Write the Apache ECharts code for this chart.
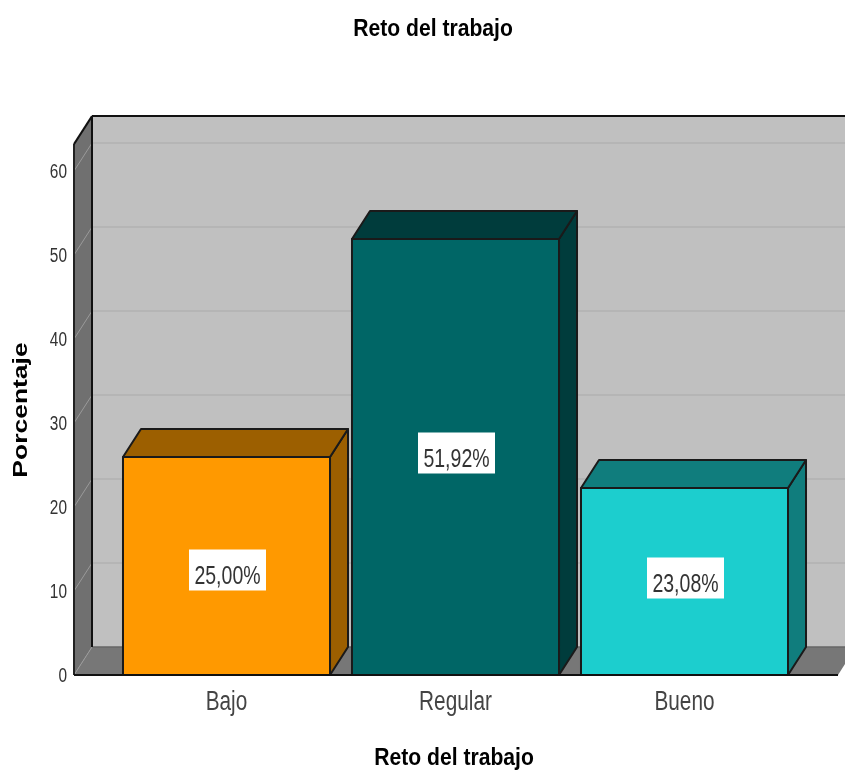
<!DOCTYPE html>
<html>
<head>
<meta charset="utf-8">
<style>html,body{margin:0;padding:0;background:#fff}#c{width:845px;height:771px}</style>
<script src="https://cdn.jsdelivr.net/npm/echarts@6/dist/echarts.min.js"></script>
</head>
<body>
<div id="c"></div>
<script>
const categories = ['Bajo', 'Regular', 'Bueno'];
const percentValues = [25.00, 51.92, 23.08];
const drawnHeights = [25.95, 51.9, 22.26];
const labelAnchors = [12.5, 26.43, 11.54];
const frontColors = ['#ff9900', '#006666', '#1ccece'];
const sideColors = ['#9c5f00', '#003c3c', '#107d7d'];
const yTicks = [0, 10, 20, 30, 40, 50, 60];
const wallTop = 63.2;
const titleText = 'Reto del trabajo';
const yName = 'Porcentaje';

const DX = 18, DY = -28, EDGE = '#1a1a1a';
const SANS = '"Liberation Sans",Arial,sans-serif';

function poly(points, fill, stroke, lw) {
  return { type: 'polygon', shape: { points }, style: { fill, stroke: stroke || null, lineWidth: lw === undefined ? 2 : lw, lineJoin: 'round' } };
}
function line(x1, y1, x2, y2, stroke, lw) {
  return { type: 'line', shape: { x1, y1, x2, y2 }, style: { stroke, lineWidth: lw } };
}
function label(text, x, y, sx, size, color, align, weight) {
  return { type: 'text', x, y, scaleX: sx, style: {
    x: 0, y: 0, text, align: align || 'center', verticalAlign: 'middle',
    font: (weight ? weight + ' ' : '') + size + 'px ' + SANS, fill: color
  } };
}

function renderWalls(params, api) {
  const cs = params.coordSys;
  const L = cs.x - 38, R = cs.x + cs.width + 39;
  const y0 = api.coord([0, 0])[1], yT = api.coord([0, wallTop])[1];
  const kids = [
    poly([[L + DX, yT + DY], [R + DX, yT + DY], [R + DX, y0 + DY], [L + DX, y0 + DY]], '#c0c0c0', null, 0),
    poly([[L, yT], [L + DX, yT + DY], [L + DX, y0 + DY], [L, y0]], '#707070', null, 0),
    poly([[L, y0], [L + DX, y0 + DY], [R + DX, y0 + DY], [R, y0]], '#777777', null, 0)
  ];
  yTicks.forEach(t => {
    const y = api.coord([0, t])[1];
    if (t > 0) {
      kids.push(line(L + DX, y + DY, R + DX, y + DY, '#b5b5b5', 2));
    } else {
      kids.push(line(L + DX, y + DY, R + DX, y + DY, '#666666', 1.5));
    }
    kids.push(line(L, y, L + DX, y + DY, '#9a9a9a', 1));
    kids.push(label(String(t), L - 7, y + 1.5, 0.77, 20, '#333', 'right'));
  });
  kids.push(line(L, yT, L, y0, '#222', 2));
  kids.push(line(L, yT, L + DX, yT + DY, '#111', 2));
  kids.push(line(L + DX, yT + DY, R + DX, yT + DY, '#111', 2));
  kids.push(line(L + DX, yT + DY, L + DX, y0 + DY, '#111', 2));
  return { type: 'group', children: kids };
}

function renderBars(params, api) {
  const i = api.value(0), h = api.value(1), pct = api.value(2);
  const base = api.coord([i, 0]), top = api.coord([i, h]);
  const w = api.size([1, 0])[0] * 0.904;
  const x1 = base[0] - w / 2, x2 = base[0] + w / 2, y0 = base[1], y1 = top[1];
  const cy = api.coord([i, labelAnchors[i]])[1];
  const c = frontColors[i], s = sideColors[i];
  return {
    type: 'group',
    children: [
      poly([[x2, y1], [x2 + DX, y1 + DY], [x2 + DX, y0 + DY], [x2, y0]], s, EDGE),
      poly([[x1, y1], [x1 + DX, y1 + DY], [x2 + DX, y1 + DY], [x2, y1]], s, EDGE),
      poly([[x1, y1], [x2, y1], [x2, y0], [x1, y0]], c, EDGE),
      { type: 'rect', shape: { x: base[0] - 37.5, y: cy - 20.5, width: 77, height: 41 }, style: { fill: '#fff' } },
      label(pct.toFixed(2).replace('.', ',') + '%', base[0] + 1, cy + 6.5, 0.75, 26, '#333'),
      label(categories[i], base[0], y0 + 28, 0.77, 27, '#444')
    ]
  };
}

function renderBase(params, api) {
  const cs = params.coordSys;
  const y0 = api.coord([0, 0])[1];
  return line(cs.x - 38, y0, cs.x + cs.width + 39, y0, '#111', 2);
}

const chart = echarts.init(document.getElementById('c'), null, { renderer: 'canvas' });
chart.setOption({
  animation: false,
  backgroundColor: '#fff',
  grid: { left: 112, width: 687, top: 171, height: 504, outerBoundsMode: 'none' },
  xAxis: {
    type: 'category', data: categories,
    axisLine: { show: false }, axisTick: { show: false }, axisLabel: { show: false }
  },
  yAxis: {
    type: 'value', min: 0, max: 60, interval: 10,
    axisLine: { show: false }, axisTick: { show: false }, splitLine: { show: false },
    axisLabel: { show: false }
  },
  graphic: [
    { type: 'text', x: 433, y: 29, scaleX: 0.88, style: { text: titleText, x: 0, y: 0, align: 'center', verticalAlign: 'middle', font: 'bold 24px ' + SANS, fill: '#000' } },
    { type: 'text', x: 454, y: 758, scaleX: 0.88, style: { text: titleText, x: 0, y: 0, align: 'center', verticalAlign: 'middle', font: 'bold 24px ' + SANS, fill: '#000' } },
    { type: 'text', x: 21, y: 410, rotation: Math.PI / 2, scaleX: 1.26, style: { text: yName, x: 0, y: 0, align: 'center', verticalAlign: 'middle', font: 'bold 21px ' + SANS, fill: '#000' } }
  ],
  series: [
    { type: 'custom', z: 1, silent: true, renderItem: renderWalls, data: [[0, 0]], encode: { x: 0, y: 1 } },
    { type: 'custom', z: 3, renderItem: renderBars,
      data: categories.map((c, i) => [i, drawnHeights[i], percentValues[i]]),
      encode: { x: 0, y: 1 } },
    { type: 'custom', z: 4, silent: true, renderItem: renderBase, data: [[0, 0]], encode: { x: 0, y: 1 } }
  ]
});
</script>
</body>
</html>
